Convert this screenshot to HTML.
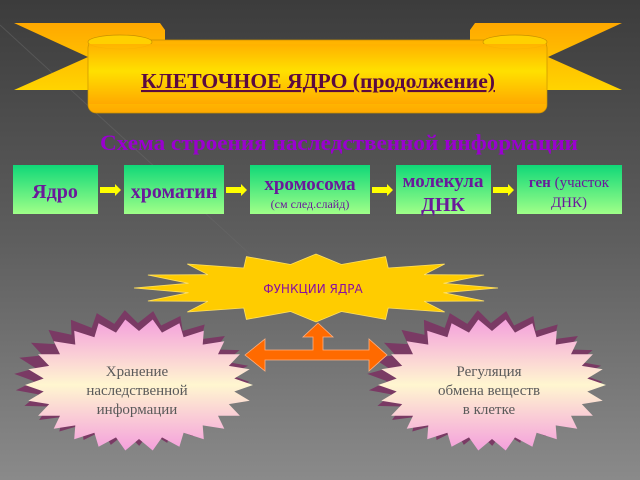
<!DOCTYPE html>
<html><head><meta charset="utf-8"><style>
html,body{margin:0;padding:0;width:640px;height:480px;overflow:hidden}
svg{display:block}
</style></head><body>
<svg id="s" width="640" height="480" viewBox="0 0 640 480" xmlns="http://www.w3.org/2000/svg">
<defs>
<linearGradient id="bg" x1="0" y1="0" x2="0" y2="1"><stop offset="0" stop-color="#3c3c3c"/><stop offset="0.5" stop-color="#5e5e5e"/><stop offset="1" stop-color="#8a8a8a"/></linearGradient>
<linearGradient id="rib" x1="0" y1="0" x2="0" y2="1"><stop offset="0" stop-color="#ffb000"/><stop offset="0.45" stop-color="#ffe000"/><stop offset="1" stop-color="#ffa800"/></linearGradient>
<linearGradient id="wing" x1="0" y1="0" x2="0" y2="1"><stop offset="0" stop-color="#ffa800"/><stop offset="1" stop-color="#ffd400"/></linearGradient>
<linearGradient id="gr" x1="0" y1="0" x2="0" y2="1"><stop offset="0" stop-color="#10d878"/><stop offset="1" stop-color="#a0ff88"/></linearGradient>
<linearGradient id="pk" x1="0" y1="0" x2="0" y2="1"><stop offset="0" stop-color="#f4a0dc"/><stop offset="0.5" stop-color="#fff6d0"/><stop offset="1" stop-color="#f4a0dc"/></linearGradient>
</defs>
<rect width="640" height="480" fill="url(#bg)"/>
<path d="M0 25 L300 300 L640 300" stroke="#6a6a6a" stroke-width="1" fill="none" opacity="0.5"/>
<polygon points="14,23 160,23 165,30 165,90 14,90 88,57" fill="url(#wing)"/>
<polygon points="622,23 475,23 470,30 470,90 622,90 548,57" fill="url(#wing)"/>
<rect x="88" y="40" width="459" height="73" rx="8" fill="url(#rib)" stroke="#c89000" stroke-width="0.7"/>
<ellipse cx="120" cy="42" rx="32" ry="7" fill="#ffd000" stroke="#c89000" stroke-width="0.7"/>
<ellipse cx="515" cy="42" rx="32" ry="7" fill="#ffd000" stroke="#c89000" stroke-width="0.7"/>
<rect x="89" y="44" width="457" height="60" fill="url(#rib)" opacity="0.9"/>
<text x="318" y="88" text-anchor="middle" font-family="Liberation Serif,serif" font-weight="bold" font-size="21" fill="#5a0a40" text-decoration="underline" textLength="354" lengthAdjust="spacingAndGlyphs">КЛЕТОЧНОЕ ЯДРО (продолжение)</text>
<text x="339" y="150" text-anchor="middle" font-family="Liberation Serif,serif" font-weight="bold" font-size="22" fill="#9a00d0" textLength="478" lengthAdjust="spacingAndGlyphs">Схема строения наследственной информации</text>
<g font-family="Liberation Serif,serif" font-weight="bold" fill="#6a1a9a" text-anchor="middle">
<rect x="13" y="165" width="85" height="49" fill="url(#gr)"/>
<text x="55" y="198" font-size="20">Ядро</text>
<rect x="124" y="165" width="100" height="49" fill="url(#gr)"/>
<text x="174" y="198" font-size="20">хроматин</text>
<rect x="250" y="165" width="120" height="49" fill="url(#gr)"/>
<text x="310" y="190" font-size="19">хромосома</text>
<text x="310" y="208" font-size="12" font-weight="normal">(см след.слайд)</text>
<rect x="396" y="165" width="95" height="49" fill="url(#gr)"/>
<text x="443" y="187" font-size="19">молекула</text>
<text x="443" y="211" font-size="20">ДНК</text>
<rect x="517" y="165" width="105" height="49" fill="url(#gr)"/>
<text x="569" y="187" font-size="15">ген <tspan font-weight="normal">(участок</tspan></text>
<text x="569" y="207" font-size="15" font-weight="normal">ДНК)</text>
</g>
<g fill="#ffff00">
<polygon points="100,187 115,187 115,184 121,190 115,196 115,193 100,193"/>
<polygon points="226,187 241,187 241,184 247,190 241,196 241,193 226,193"/>
<polygon points="372,187 387,187 387,184 393,190 387,196 387,193 372,193"/>
<polygon points="493,187 508,187 508,184 514,190 508,196 508,193 493,193"/>
</g>
<g id="stars"></g>
<polygon points="245,355 265,339 265,350 313,350 313,337 303,337 318,323 333,337 323,337 323,350 369,350 369,339 387,355 369,371 369,360 265,360 265,371" fill="#ff6a00" stroke="#ffb080" stroke-width="0.8"/>
<text x="313" y="293" text-anchor="middle" font-family="DejaVu Sans,sans-serif" font-size="12" fill="#8a10a0">ФУНКЦИИ ЯДРА</text>
<g font-family="Liberation Serif,serif" font-size="15" fill="#5a5a5a" text-anchor="middle">
<text x="137" y="376">Хранение</text><text x="137" y="395">наследственной</text><text x="137" y="414">информации</text>
<text x="489" y="376">Регуляция</text><text x="489" y="395">обмена веществ</text><text x="489" y="414">в клетке</text>
</g>
<script>
function star(cx,cy,rx,ry,irx,iry,n,rot){var p=[];for(var i=0;i<2*n;i++){var a=Math.PI*i/n+rot;var o=i%2==0;p.push((cx+(o?rx:irx)*Math.cos(a)).toFixed(1)+','+(cy+(o?ry:iry)*Math.sin(a)).toFixed(1));}return p.join(' ');}
var g=document.getElementById('stars'),ns='http://www.w3.org/2000/svg';
function poly(pts,fill,st){var e=document.createElementNS(ns,'polygon');e.setAttribute('points',pts);e.setAttribute('fill',fill);if(st){e.setAttribute('stroke',st);e.setAttribute('stroke-width','0.8');}g.appendChild(e);}
poly(star(316,288,182,34,130,24,16,0),'#ffcc00','#ffe060');
[[137,383],[490,383]].forEach(function(c){
poly(star(c[0]-5,c[1]-5,118,68,98,55,26,0.06),'#7a3a64');
poly(star(c[0]+2,c[1]+2,114,66,96,54,26,0),'url(#pk)');
});
</script>
</svg>
</body></html>
